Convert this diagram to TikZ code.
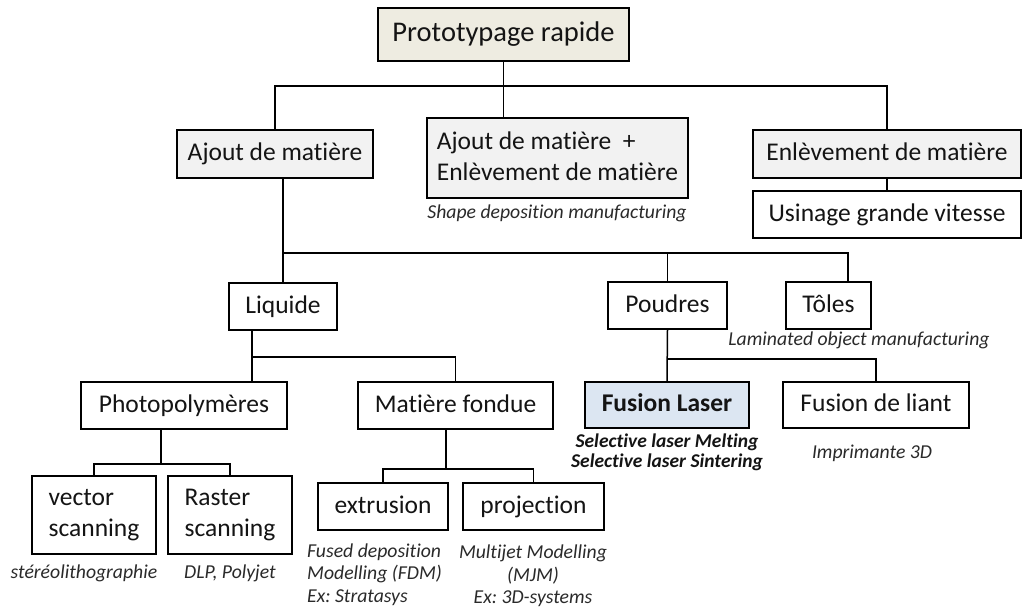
\documentclass[tikz,border=0pt]{standalone}
\usepackage{fontspec}
\setmainfont[Ligatures=NoCommon]{Carlito}
\usetikzlibrary{positioning}
\frenchspacing
\definecolor{beige}{HTML}{EEECE1}
\definecolor{lgray}{HTML}{F2F2F2}
\definecolor{lblue}{HTML}{DCE6F2}
\definecolor{txt}{HTML}{141414}
\definecolor{captxt}{HTML}{2A2A2A}
\newcommand{\capstrut}{\rule[-0.16em]{0pt}{0.8em}}
\begin{document}
\begin{tikzpicture}[x=1pt,y=-1pt,
  box/.style={draw=black, line width=1.6pt, inner sep=0pt, text=txt,
    font=\fontsize{25.5}{30.5}\selectfont, align=center,
    execute at begin node=\capstrut, execute at end node=\capstrut},
  lbox/.style={box, align=left},
  capnote/.style={inner sep=0pt, text=captxt, font=\fontsize{19.7}{22.5}\selectfont\itshape\frenchspacing, align=center},
  conn/.style={line width=1.5pt, draw=black}]
\useasboundingbox (0,0) rectangle (1023,610);
\fill[white] (0,0) rectangle (1023,610);
% boxes
\node[box, fill=beige, minimum width=251pt, minimum height=53pt, font=\fontsize{28.5}{33}\selectfont] (root) at (503.5,34.5) {Prototypage rapide};
\node[box, fill=lgray, minimum width=196pt, minimum height=48pt] (ajout) at (275,154) {Ajout de matière};
\node[lbox, fill=lgray, minimum width=261pt, minimum height=80pt] (both) at (557.5,158) {Ajout de matière\ \ +\\Enlèvement de matière};
\node[box, fill=lgray, minimum width=268pt, minimum height=48pt] (enl) at (887,154) {Enlèvement de matière};
\node[box, fill=white, minimum width=268pt, minimum height=47pt] (usi) at (887,214.5) {Usinage grande vitesse};
\node[box, fill=white, minimum width=108pt, minimum height=47pt] (liq) at (283,306.5) {Liquide};
\node[box, fill=white, minimum width=119pt, minimum height=47pt] (pou) at (667.5,305.5) {Poudres};
\node[box, fill=white, minimum width=85pt, minimum height=47pt] (tol) at (828.5,305.5) {Tôles};
\node[box, fill=white, minimum width=206pt, minimum height=47pt] (photo) at (184,405.5) {Photopolymères};
\node[box, fill=white, minimum width=195pt, minimum height=47pt] (mat) at (455.5,405.5) {Matière fondue};
\node[box, fill=lblue, minimum width=164pt, minimum height=46pt, font=\fontsize{25.5}{30.5}\selectfont\bfseries] (fl) at (667,405) {Fusion Laser};
\node[box, fill=white, minimum width=186pt, minimum height=46pt] (fdl) at (876,405) {Fusion de liant};
\node[lbox, fill=white, minimum width=124pt, minimum height=78pt] (vec) at (94,515) {vector\\scanning};
\node[lbox, fill=white, minimum width=124pt, minimum height=78pt] (ras) at (230,515) {Raster\\scanning};
\node[box, fill=white, minimum width=130pt, minimum height=47pt] (ext) at (383,506.5) {extrusion};
\node[box, fill=white, minimum width=141pt, minimum height=47pt] (proj) at (533.5,506.5) {projection};
% captions
\node[capnote] (c1) at (557,213) {Shape deposition manufacturing};
\node[capnote] (c2) at (859,340) {Laminated object manufacturing};
\node[capnote, font=\fontsize{19.5}{19.5}\selectfont\bfseries\itshape, text=txt] (c3) at (667,452.5) {Selective laser Melting\\Selective laser Sintering};
\node[capnote] (c4) at (872,453) {Imprimante 3D};
\node[capnote] (c5) at (84,573) {stéréolithographie};
\node[capnote] (c6) at (230,573) {DLP, Polyjet};
\node[capnote, align=left, anchor=west] (c7) at (307,574.5) {Fused deposition\\Modelling (FDM)\\Ex: Stratasys};
\node[capnote] (c8) at (533,576) {Multijet Modelling\\(MJM)\\Ex: 3D-systems};
% connectors
\coordinate (j1) at (503.5,86);
\coordinate (j2) at (283,253);
\coordinate (j3) at (848,253);
\coordinate (j4) at (252,357);
\coordinate (j5) at (161,464);
\coordinate (j6) at (446,469);
\coordinate (j7) at (668,359);
\draw[conn] (root.south) -- (j1);
\draw[conn] (ajout.north) |- (j1) -| (enl.north);
\draw[conn] (j1) -- (j1 |- both.north);
\draw[conn] (enl.south) -- (usi.north);
\draw[conn] (j2 |- ajout.south) -- (liq.north);
\draw[conn] (j2) -- (j3) -- (j3 |- tol.north);
\draw[conn] (j2 -| pou.north) -- (pou.north);
\draw[conn] (j4 |- liq.south) -- (j4 |- photo.north);
\draw[conn] (j4) -| (mat.north);
\draw[conn] (j5 |- photo.south) -- (j5);
\draw[conn] (vec.north) |- (j5) -| (ras.north);
\draw[conn] (j6 |- mat.south) -- (j6);
\draw[conn] (ext.north) |- (j6) -| (proj.north);
\draw[conn] (pou.south) -- (fl.north);
\draw[conn] (j7) -| (fdl.north);
\end{tikzpicture}
\end{document}
